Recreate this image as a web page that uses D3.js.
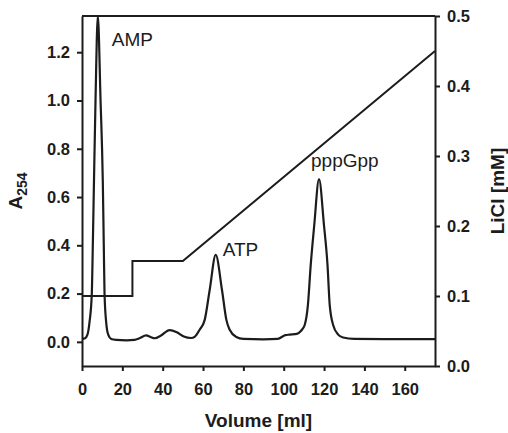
<!DOCTYPE html>
<html>
<head>
<meta charset="utf-8">
<script src="https://cdn.jsdelivr.net/npm/d3@7"></script>
<style>
  html, body { margin: 0; padding: 0; background: #fff; }
  svg { display: block; }
  text { font-family: "Liberation Sans", Arial, Helvetica, sans-serif; fill: #1c1c1c; }
</style>
</head>
<body>
<svg id="chart" width="508" height="433"></svg>
<script>
// Elution volume (ml) and absorbance at 254 nm of the chromatogram trace
const volume = [0, 1.5, 2.7, 3.7, 4.86, 5.36, 5.95, 6.7, 7.85, 9.2, 10.3, 10.8, 11.17, 12.0, 13.0, 14.5,
  17, 22, 26, 28.5, 31.8, 34, 36, 39, 43.4, 47, 50.5, 54, 56, 58.3, 60.8, 63.3, 66.3, 69.4, 71.6, 73.2,
  76.5, 80, 90, 97, 100.8, 103, 106.5, 108.5, 110.4, 112, 113.4, 115.1, 117.5, 120, 121.7, 122.8, 124.5,
  127, 129.4, 135, 150, 175];
const a254 = [0.012, 0.015, 0.03, 0.08, 0.2, 0.4, 0.67, 1.0, 1.35, 1.0, 0.67, 0.4, 0.2, 0.08, 0.03, 0.012,
  0.008, 0.006, 0.008, 0.015, 0.027, 0.02, 0.015, 0.025, 0.049, 0.04, 0.022, 0.016, 0.022, 0.05, 0.09, 0.215, 0.36, 0.215, 0.09, 0.05,
  0.02, 0.012, 0.01, 0.012, 0.028, 0.03, 0.033, 0.045, 0.07, 0.153, 0.32, 0.48, 0.674, 0.48, 0.32, 0.153, 0.07,
  0.03, 0.018, 0.012, 0.011, 0.011];

// LiCl step gradient
const gradVolume = [0, 25, 25, 50, 175];
const gradLiCl = [0.1, 0.1, 0.15, 0.15, 0.45];

// Peak labels
const peakNames = ["AMP", "ATP", "pppGpp"];
const peakVolume = [7.85, 66.3, 117.5];
const peakA254 = [1.35, 0.36, 0.674];

// Tick values
const xTicks = [0, 20, 40, 60, 80, 100, 120, 140, 160];
const yTicks = [0.0, 0.2, 0.4, 0.6, 0.8, 1.0, 1.2];
const y2Ticks = [0.0, 0.1, 0.2, 0.3, 0.4, 0.5];

const svg = d3.select("#chart");
const margin = { left: 82, right: 73, top: 16, bottom: 67 };
const W = 508, H = 433;

const x = d3.scaleLinear().domain([0, 175]).range([margin.left, W - margin.right]);
const y = d3.scaleLinear().domain([-0.1, 1.35]).range([H - margin.bottom, margin.top]);
const y2 = d3.scaleLinear().domain([0, 0.5]).range([H - margin.bottom, margin.top]);

const ink = "#1c1c1c";
const fmt = d3.format(".1f");

function styleAxis(g) {
  g.select(".domain").attr("stroke", ink).attr("stroke-width", 2);
  g.selectAll(".tick line").attr("stroke", ink).attr("stroke-width", 2);
  g.selectAll(".tick text")
    .attr("font-family", "'Liberation Sans', Arial, sans-serif")
    .attr("font-size", 16.5).attr("font-weight", "bold").attr("fill", ink);
}

// Axes
svg.append("g")
  .attr("transform", `translate(0,${H - margin.bottom})`)
  .call(d3.axisBottom(x).tickValues(xTicks).tickSize(5).tickSizeOuter(0).tickPadding(12))
  .call(styleAxis);

svg.append("g")
  .attr("transform", `translate(${margin.left},0)`)
  .call(d3.axisLeft(y).tickValues(yTicks).tickFormat(fmt).tickSize(5).tickSizeOuter(0).tickPadding(7))
  .call(styleAxis);

svg.append("g")
  .attr("transform", `translate(${W - margin.right},0)`)
  .call(d3.axisRight(y2).tickValues(y2Ticks).tickFormat(fmt).tickSize(5).tickSizeOuter(0).tickPadding(7))
  .call(styleAxis);

// Top border
svg.append("line")
  .attr("x1", x(0)).attr("x2", x(175))
  .attr("y1", y(1.35)).attr("y2", y(1.35))
  .attr("stroke", ink).attr("stroke-width", 2);

// LiCl gradient
svg.append("path")
  .datum(d3.range(gradVolume.length))
  .attr("fill", "none").attr("stroke", ink).attr("stroke-width", 2)
  .attr("stroke-linejoin", "miter")
  .attr("d", d3.line().x(i => x(gradVolume[i])).y(i => y2(gradLiCl[i])));

// Absorbance trace
svg.append("path")
  .datum(d3.range(volume.length))
  .attr("fill", "none").attr("stroke", ink).attr("stroke-width", 2.2)
  .attr("d", d3.line().curve(d3.curveMonotoneX).x(i => x(volume[i])).y(i => y(a254[i])));

// Peak labels
const labelDx = [14, 7, -8];
const labelDy = [30, 1.5, -12];
peakNames.forEach((name, i) => {
  svg.append("text")
    .attr("x", x(peakVolume[i]) + labelDx[i])
    .attr("y", y(peakA254[i]) + labelDy[i])
    .attr("font-size", 19)
    .text(name);
});

// Axis titles
svg.append("text")
  .attr("x", (x(0) + x(175)) / 2).attr("y", 427)
  .attr("text-anchor", "middle").attr("font-size", 19).attr("font-weight", "bold")
  .text("Volume [ml]");

const yt = svg.append("text")
  .attr("transform", `translate(22,${(margin.top + H - margin.bottom) / 2}) rotate(-90)`)
  .attr("text-anchor", "middle").attr("font-size", 19).attr("font-weight", "bold");
yt.append("tspan").text("A");
yt.append("tspan").attr("font-size", 14).attr("dy", 5).text("254");

svg.append("text")
  .attr("transform", `translate(504,${(margin.top + H - margin.bottom) / 2}) rotate(-90)`)
  .attr("text-anchor", "middle").attr("font-size", 19).attr("font-weight", "bold")
  .text("LiCl [mM]");
</script>
</body>
</html>
